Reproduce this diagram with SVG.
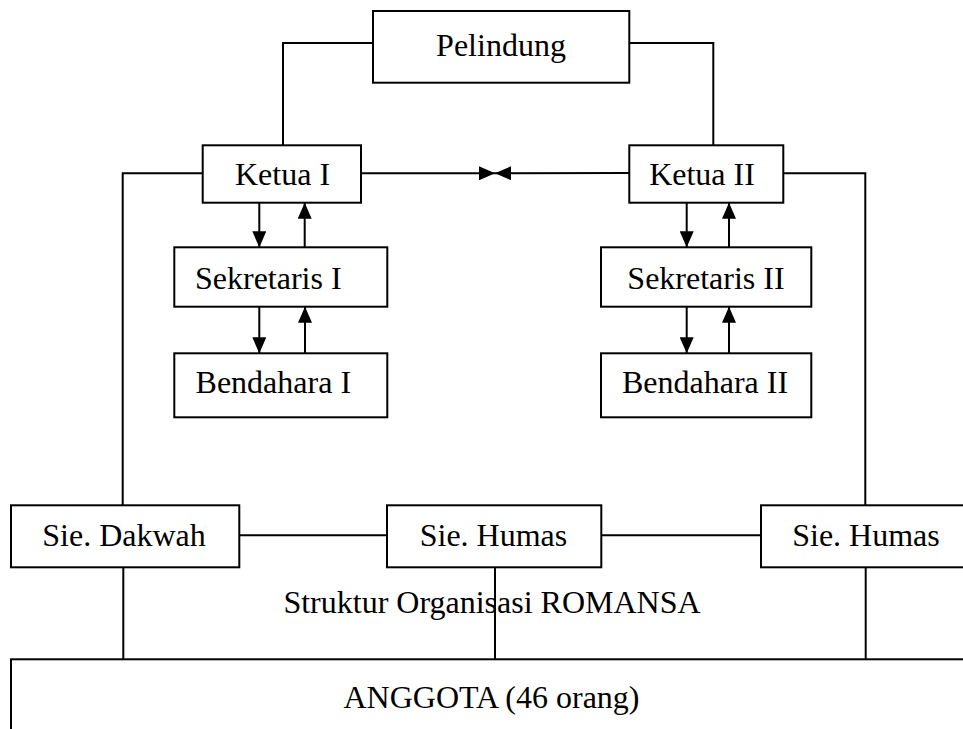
<svg xmlns="http://www.w3.org/2000/svg" width="963" height="729" viewBox="0 0 963 729">
<style>
.box{fill:#fff;stroke:#000;stroke-width:2}
.ln{fill:none;stroke:#000;stroke-width:2}
.t{font-family:"Liberation Serif","Times New Roman",serif;font-size:32px;fill:#000;text-anchor:middle}
</style>
<defs>
<marker id="ah" viewBox="0 0 16 14" refX="16" refY="7" markerWidth="16" markerHeight="14" markerUnits="userSpaceOnUse" orient="auto">
<path d="M0,0 L16,7 L0,14 z" fill="#000"/>
</marker>
</defs>
<rect width="963" height="729" fill="#fff"/>
<g id="connectors">
<polyline class="ln" points="373,43 283,43 283,145.3"/>
<polyline class="ln" points="629,43 713.3,43 713.3,145.3"/>
<line class="ln" x1="361" y1="173.3" x2="495" y2="173.3" marker-end="url(#ah)"/>
<line class="ln" x1="629" y1="173" x2="495" y2="173.3" marker-end="url(#ah)"/>
<polyline class="ln" points="202.7,173.3 122.7,173.3 122.7,505.3"/>
<polyline class="ln" points="783.3,173.3 865.3,173.3 865.3,505.3"/>
<line class="ln" x1="259.3" y1="202.7" x2="259.3" y2="247.3" marker-end="url(#ah)"/>
<line class="ln" x1="304.7" y1="247.3" x2="304.7" y2="202.7" marker-end="url(#ah)"/>
<line class="ln" x1="259.3" y1="306.7" x2="259.3" y2="353.3" marker-end="url(#ah)"/>
<line class="ln" x1="305" y1="353.3" x2="305" y2="306.7" marker-end="url(#ah)"/>
<line class="ln" x1="686.7" y1="202.7" x2="686.7" y2="247.3" marker-end="url(#ah)"/>
<line class="ln" x1="729" y1="247.3" x2="729" y2="202.7" marker-end="url(#ah)"/>
<line class="ln" x1="686.7" y1="306.7" x2="686.7" y2="353.3" marker-end="url(#ah)"/>
<line class="ln" x1="729" y1="353.3" x2="729" y2="306.7" marker-end="url(#ah)"/>
<line class="ln" x1="239.3" y1="535.3" x2="387" y2="535.3"/>
<line class="ln" x1="601.3" y1="535.3" x2="761" y2="535.3"/>
<line class="ln" x1="123.3" y1="567.3" x2="123.3" y2="659.3"/>
<line class="ln" x1="495" y1="567.3" x2="495" y2="659.3"/>
<line class="ln" x1="865.7" y1="567.3" x2="865.7" y2="659.3"/>
</g>
<g id="pelindung"><rect class="box" x="373" y="11" width="256.3" height="71.7"/><text class="t" x="501" y="55.5">Pelindung</text></g>
<g id="ketua1"><rect class="box" x="202.7" y="145.3" width="158.3" height="57.4"/><text class="t" x="282.5" y="185">Ketua I</text></g>
<g id="ketua2"><rect class="box" x="629.3" y="145.3" width="154" height="57.4"/><text class="t" x="702" y="184.5">Ketua II</text></g>
<g id="sekretaris1"><rect class="box" x="174.3" y="247.3" width="213" height="59.4"/><text class="t" x="268.3" y="288.5">Sekretaris I</text></g>
<g id="bendahara1"><rect class="box" x="174.3" y="353.3" width="213" height="64"/><text class="t" x="273.3" y="393.3">Bendahara I</text></g>
<g id="sekretaris2"><rect class="box" x="601" y="247.3" width="210.3" height="59.4"/><text class="t" x="706" y="288.5">Sekretaris II</text></g>
<g id="bendahara2"><rect class="box" x="601" y="353.3" width="210.3" height="64"/><text class="t" x="705" y="393.3">Bendahara II</text></g>
<g id="sie-dakwah"><rect class="box" x="11" y="505.3" width="228.3" height="62"/><text class="t" x="124" y="546">Sie. Dakwah</text></g>
<g id="sie-humas-1"><rect class="box" x="387" y="505.3" width="214.3" height="62"/><text class="t" x="493.5" y="546">Sie. Humas</text></g>
<g id="sie-humas-2"><rect class="box" x="761" y="505.3" width="212" height="62"/><text class="t" x="866" y="546">Sie. Humas</text></g>
<g id="anggota"><rect class="box" x="11" y="659.3" width="962" height="100"/><text class="t" x="491.5" y="708.3">ANGGOTA (46 orang)</text></g>
<text class="t" x="492" y="613.3">Struktur Organisasi ROMANSA</text>
</svg>
